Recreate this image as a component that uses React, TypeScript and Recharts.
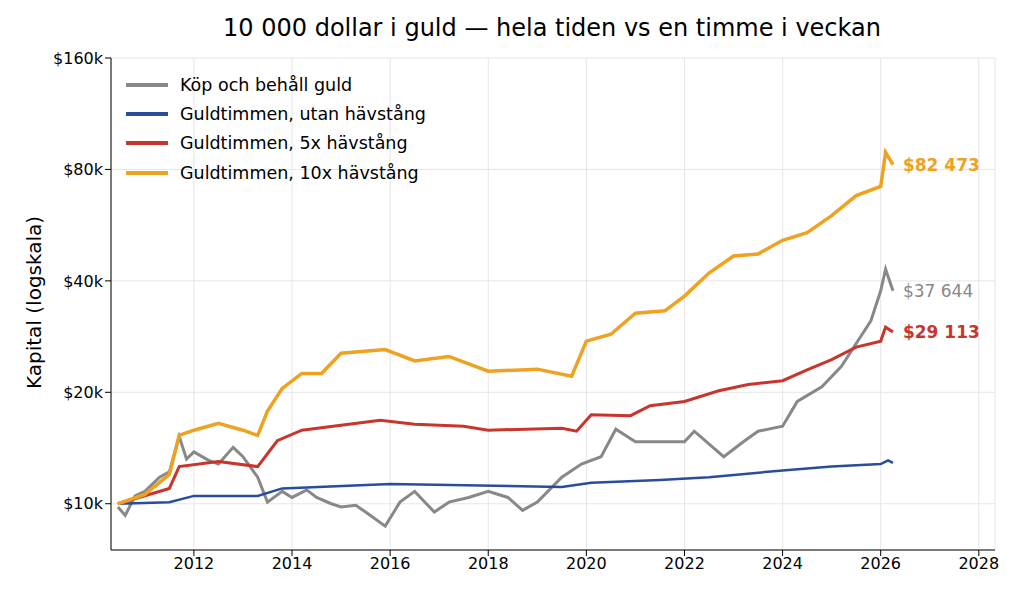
import React from 'react'
import { LineChart, Line, XAxis, YAxis, CartesianGrid } from 'recharts'

const FONT = 'DejaVu Sans, sans-serif'

const goldYears = [2010.45, 2010.6, 2010.8, 2011.0, 2011.3, 2011.5, 2011.7, 2011.85, 2012.0, 2012.3, 2012.5, 2012.8, 2013.0, 2013.3, 2013.5, 2013.8, 2014.0, 2014.3, 2014.5, 2014.8, 2015.0, 2015.3, 2015.5, 2015.9, 2016.2, 2016.5, 2016.9, 2017.2, 2017.6, 2018.0, 2018.4, 2018.7, 2019.0, 2019.5, 2019.9, 2020.3, 2020.6, 2021.0, 2021.5, 2022.0, 2022.2, 2022.8, 2023.2, 2023.5, 2024.0, 2024.3, 2024.8, 2025.2, 2025.5, 2025.8, 2026.0, 2026.1, 2026.25]
const goldValues = [9.8, 9.3, 10.5, 10.8, 11.8, 12.2, 15.2, 13.2, 13.8, 13.1, 12.8, 14.2, 13.4, 11.8, 10.1, 10.8, 10.4, 10.9, 10.4, 10.0, 9.8, 9.9, 9.5, 8.7, 10.1, 10.8, 9.5, 10.1, 10.4, 10.8, 10.4, 9.6, 10.1, 11.8, 12.8, 13.4, 15.9, 14.7, 14.7, 14.7, 15.7, 13.4, 14.7, 15.7, 16.2, 18.9, 20.7, 23.5, 27.1, 31.2, 37.6, 43.0, 37.6]

const x10Years = [2010.45, 2011.0, 2011.5, 2011.7, 2012.0, 2012.5, 2013.0, 2013.3, 2013.5, 2013.8, 2014.2, 2014.6, 2015.0, 2015.9, 2016.5, 2017.2, 2018.0, 2019.0, 2019.7, 2020.0, 2020.5, 2021.0, 2021.6, 2022.0, 2022.5, 2023.0, 2023.5, 2024.0, 2024.5, 2025.0, 2025.5, 2026.0, 2026.1, 2026.25]
const x10Values = [10, 10.6, 12, 15.3, 15.8, 16.5, 15.8, 15.3, 17.8, 20.5, 22.5, 22.5, 25.5, 26.1, 24.3, 25.0, 22.8, 23.1, 22.1, 27.5, 28.7, 32.7, 33.2, 36.4, 42.0, 46.7, 47.3, 51.5, 54.0, 60, 68, 72, 89, 82.473]

const x5Years = [2010.45, 2011.5, 2011.7, 2012.5, 2013.3, 2013.7, 2014.2, 2015.0, 2015.8, 2016.5, 2017.5, 2018.0, 2019.5, 2019.8, 2020.1, 2020.9, 2021.3, 2022.0, 2022.7, 2023.3, 2024.0, 2024.5, 2025.0, 2025.5, 2026.0, 2026.1, 2026.25]
const x5Values = [10, 11, 12.6, 13, 12.6, 14.8, 15.8, 16.3, 16.8, 16.4, 16.2, 15.8, 16, 15.7, 17.4, 17.3, 18.4, 18.9, 20.2, 21, 21.5, 23, 24.5, 26.5, 27.5, 30, 29.113]

const x1Years = [2010.45, 2011.5, 2012.0, 2013.3, 2013.8, 2016.0, 2019.5, 2020.1, 2021.5, 2022.5, 2024.0, 2025.0, 2026.0, 2026.15, 2026.25]
const x1Values = [10, 10.1, 10.5, 10.5, 11, 11.3, 11.1, 11.4, 11.6, 11.8, 12.3, 12.6, 12.8, 13.1, 12.9]

const yTicks = [10000, 20000, 40000, 80000, 160000]
const xTicks = [2012, 2014, 2016, 2018, 2020, 2022, 2024, 2026, 2028]

const toRows = (years: number[], vals: number[]) => years.map((y, i) => ({ t: y, v: vals[i] * 1000 }))

const series = [
  { name: 'Köp och behåll guld', color: '#888888', rows: toRows(goldYears, goldValues), label: '$37 644', bold: false, w: 3 },
  { name: 'Guldtimmen, utan hävstång', color: '#2a4d9b', rows: toRows(x1Years, x1Values), label: '', bold: false, w: 2.5 },
  { name: 'Guldtimmen, 5x hävstång', color: '#c8352b', rows: toRows(x5Years, x5Values), label: '$29 113', bold: true, w: 3 },
  { name: 'Guldtimmen, 10x hävstång', color: '#eea21f', rows: toRows(x10Years, x10Values), label: '$82 473', bold: true, w: 3.5 },
]

const endLabel = (s: typeof series[number]) => (p: any) => {
  if (!s.label || p.index !== s.rows.length - 1) return null
  return (
    <text x={p.x + 10} y={p.y + 6} fill={s.color} fontSize={17} fontWeight={s.bold ? 'bold' : 'normal'} fontFamily={FONT}>
      {s.label}
    </text>
  )
}

export default function App() {
  return (
    <div style={{ position: 'absolute', left: 0, top: 0, width: 1024, height: 596, background: '#fff', fontFamily: FONT }}>
      <div style={{ position: 'absolute', top: 14, width: 1024, paddingLeft: 80, boxSizing: 'border-box', textAlign: 'center', fontSize: 24 }}>
        10 000 dollar i guld — hela tiden vs en timme i veckan
      </div>
      <LineChart width={1024} height={596} margin={{ top: 58, right: 29, left: 35, bottom: 16 }}>
        <CartesianGrid stroke="#e6e6e6" />
        <XAxis type="number" dataKey="t" domain={[2010.31, 2028.33]} ticks={xTicks} allowDataOverflow
          tick={{ fill: '#000', fontSize: 16, fontFamily: FONT }} stroke="#000" tickSize={6} />
        <YAxis type="number" scale="log" domain={[7500, 160000]} ticks={yTicks} allowDataOverflow
          tickFormatter={(v: number) => `$${v / 1000}k`} width={76}
          tick={{ fill: '#000', fontSize: 16, fontFamily: FONT }} stroke="#000" tickSize={6}
          label={{ value: 'Kapital (logskala)', angle: -90, position: 'insideLeft', dx: -6, dy: 85, style: { fontSize: 20, fill: '#000', fontFamily: FONT } }} />
        {series.map(s => (
          <Line key={s.name} data={s.rows} dataKey="v" stroke={s.color} strokeWidth={s.w} dot={false}
            isAnimationActive={false} label={endLabel(s)} />
        ))}
      </LineChart>
      <div style={{ position: 'absolute', left: 126, top: 70, fontSize: 17.5 }}>
        {series.map(s => (
          <div key={s.name} style={{ display: 'flex', alignItems: 'center', height: 29.3 }}>
            <div style={{ width: 42, height: 4, background: s.color, marginRight: 12 }} />
            {s.name}
          </div>
        ))}
      </div>
    </div>
  )
}
